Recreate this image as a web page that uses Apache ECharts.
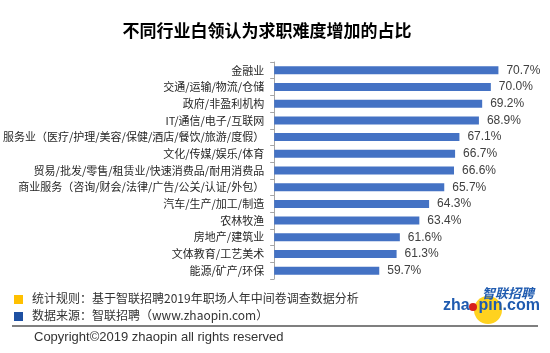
<!DOCTYPE html>
<html>
<head>
<meta charset="utf-8">
<script src="https://cdn.jsdelivr.net/npm/echarts@6/dist/echarts.min.js"></script>
<style>
  html, body { margin: 0; padding: 0; background: #fff; }
</style>
</head>
<body>
<div id="main" style="width: 550px; height: 353px"></div>
<script>
// 行业分类和占比数据
const categories = ['金融业', '交通/运输/物流/仓储', '政府/非盈利机构', 'IT/通信/电子/互联网',
  '服务业（医疗/护理/美容/保健/酒店/餐饮/旅游/度假）', '文化/传媒/娱乐/体育',
  '贸易/批发/零售/租赁业/快速消费品/耐用消费品', '商业服务（咨询/财会/法律/广告/公关/认证/外包）',
  '汽车/生产/加工/制造', '农林牧渔', '房地产/建筑业', '文体教育/工艺美术', '能源/矿产/环保']
const values = [70.7, 70.0, 69.2, 68.9, 67.1, 66.7, 66.6, 65.7, 64.3, 63.4, 61.6, 61.3, 59.7]

const cjk = '"Noto Sans CJK SC", "Liberation Sans", sans-serif'

const myChart = echarts.init(document.getElementById('main'))
const option = {
  animation: false,
  title: {
    text: '不同行业白领认为求职难度增加的占比',
    left: 262,
    textAlign: 'center',
    top: 17,
    textStyle: {
      color: '#000000',
      fontWeight: 'bold',
      fontFamily: cjk,
      fontSize: 17,
    },
  },
  grid: {
    left: 268,
    top: 62,
    height: 217,
    right: 5,
    containLabel: false
  },
  xAxis: {
    type: 'value',
    min: 50,
    max: 75,
    show: false
  },
  yAxis: {
    type: 'category',
    inverse: true,
    data: categories,
    axisLine: {
      lineStyle: {color: '#a6a6a6'}
    },
    axisTick: {
      show: true,
      length: 4,
      lineStyle: {color: '#a6a6a6'}
    },
    axisLabel: {
      margin: 10,
      color: '#262626',
      fontSize: 11,
      fontFamily: cjk
    }
  },
  series: [
    {
      type: 'bar',
      data: values,
      barWidth: 8,
      itemStyle: {
        color: '#4472c4'
      },
      label: {
        show: true,
        position: 'right',
        distance: 8,
        color: '#404040',
        fontSize: 12,
        fontFamily: '"Liberation Sans", sans-serif',
        formatter: function (params) {
          return params.value.toFixed(1) + '%'
        }
      }
    }
  ],
  graphic: [
    // 底部说明
    {type: 'rect', shape: {x: 14, y: 295, width: 9, height: 9}, style: {fill: '#ffc000'}},
    {type: 'rect', shape: {x: 14, y: 312, width: 9, height: 9}, style: {fill: '#1e50a2'}},
    {
      type: 'text', left: 32, top: 292,
      style: {text: '统计规则：基于智联招聘2019年职场人年中间卷调查数据分析', fill: '#333', font: '12px ' + cjk}
    },
    {
      type: 'text', left: 32, top: 309,
      style: {text: '数据来源：智联招聘（www.zhaopin.com）', fill: '#333', font: '12px ' + cjk}
    },
    {type: 'line', shape: {x1: 12, y1: 326, x2: 538, y2: 326}, style: {stroke: '#555', lineWidth: 1.5}},
    {
      type: 'text', left: 34, top: 331,
      style: {text: 'Copyright©2019 zhaopin all rights reserved', fill: '#333', font: '13px "Liberation Sans", sans-serif'}
    },
    // logo
    {type: 'circle', shape: {cx: 488, cy: 310, r: 14}, style: {fill: '#ffd21f'}},
    {type: 'circle', shape: {cx: 473, cy: 307, r: 4}, style: {fill: '#d8201c'}},
    {
      type: 'text', left: 482, top: 287,
      style: {text: '智联招聘', fill: '#1f5bb0', font: 'italic bold 13px ' + cjk}
    },
    {
      type: 'text', left: 443, top: 298,
      style: {text: 'zha  pin.com', fill: '#1f5bb0', font: 'bold 16px "Liberation Sans", sans-serif'}
    }
  ]
}
myChart.setOption(option)
</script>
</body>
</html>
